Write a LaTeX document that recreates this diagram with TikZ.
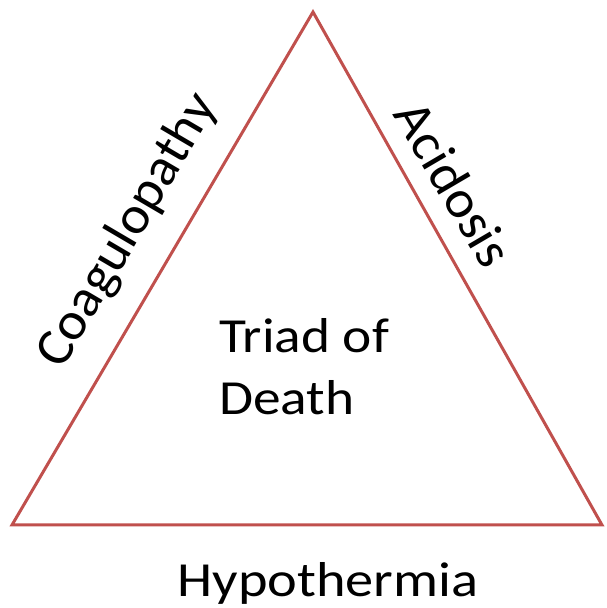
\documentclass[tikz,border=0pt]{standalone}
\usepackage{fontspec}
\setmainfont{Carlito}
\definecolor{edgered}{HTML}{C0504D}
\begin{document}
\begin{tikzpicture}[x=1pt,y=1pt,
  lbl/.style={inner sep=0pt, font=\fontsize{49}{60}\selectfont},
  slant/.style={inner sep=0pt, font=\fontsize{53}{60}\selectfont},
  edge/.style={draw=edgered, line width=3pt, line join=miter}]
\useasboundingbox (0,0) rectangle (606,608);
\coordinate (T) at (313,596);
\coordinate (L) at (12,83);
\coordinate (R) at (602,83);
\draw[edge] (T) -- (L) -- (R) -- cycle;
\node[slant, rotate=59.6, xscale=1.04] (coag) at (128,377) {Coagulopathy};
\node[slant, rotate=-59.6, xscale=1.04] (acid) at (454,424) {Acidosis};
\node[lbl, anchor=base, xscale=1.15] (hypo) at (328,11) {Hypothermia};
\node[lbl, anchor=base west, xscale=1.13] (triad) at (219,255) {Triad of};
\node[lbl, anchor=base west, xscale=1.13] (death) at (219,193) {Death};
\end{tikzpicture}
\end{document}
